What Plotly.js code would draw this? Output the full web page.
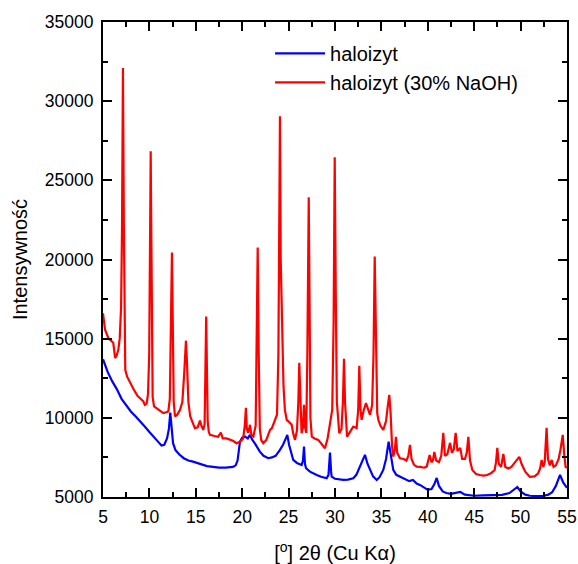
<!DOCTYPE html>
<html>
<head>
<meta charset="utf-8">
<script src="https://cdn.plot.ly/plotly-3.0.1.min.js"></script>
<style>html,body{margin:0;padding:0;background:#fff;}#chart{width:578px;height:564px;}</style>
</head>
<body>
<div id="chart"></div>
<script>
// haloizyt (30% NaOH) - red
var redX = [5.0,5.1,5.22,5.4,5.6,5.75,5.95,6.1,6.2,6.3,6.45,6.65,6.8,6.95,7.05,7.15,7.25,7.32,7.4,7.6,7.9,8.3,8.7,9.0,9.35,9.5,9.7,9.85,9.98,10.08,10.14,10.2,10.28,10.35,10.5,10.8,11.1,11.5,11.8,12.04,12.2,12.33,12.43,12.52,12.62,12.76,13.0,13.3,13.55,13.75,13.94,14.05,14.2,14.4,14.7,14.9,15.2,15.45,15.6,15.8,15.95,16.03,16.12,16.2,16.28,16.4,16.53,17.0,17.4,17.7,17.9,18.3,18.7,19.0,19.4,19.8,20.1,20.28,20.4,20.5,20.65,20.84,21.0,21.2,21.45,21.55,21.67,21.78,21.9,22.05,22.27,22.6,23.0,23.2,23.53,23.75,23.9,24.0,24.07,24.15,24.32,24.45,24.6,24.8,25.1,25.33,25.5,25.69,25.9,26.05,26.15,26.25,26.4,26.55,26.66,26.78,26.9,27.02,27.12,27.17,27.25,27.35,27.5,27.8,28.2,28.6,28.92,29.2,29.46,29.7,29.85,29.97,30.08,30.2,30.46,30.7,30.85,30.97,31.08,31.3,31.6,31.97,32.33,32.5,32.62,32.75,32.87,33.1,33.34,33.55,33.77,34.0,34.15,34.28,34.4,34.55,34.67,34.9,35.2,35.5,35.7,35.85,36.0,36.15,36.28,36.45,36.57,36.7,37.0,37.4,37.7,37.9,38.08,38.25,38.5,38.8,39.2,39.6,39.88,40.05,40.2,40.4,40.55,40.7,40.9,41.2,41.45,41.67,41.85,42.1,42.4,42.6,42.8,43.0,43.2,43.5,43.7,44.0,44.2,44.37,44.55,44.8,45.2,45.6,46.0,46.4,46.8,47.2,47.35,47.49,47.65,47.9,48.14,48.35,48.7,49.0,49.4,49.86,50.1,50.5,51.0,51.5,51.9,52.1,52.27,52.45,52.6,52.8,52.95,53.15,53.35,53.55,53.8,54.1,54.3,54.54,54.7,54.85,55.0];
var redY = [16600,16200,15570,15300,15000,14937,14800,14747,14300,13780,13900,14304,15000,17000,22000,32088,22000,15000,13038,12600,12215,11800,11400,11200,11032,10823,10900,11500,14000,22000,26835,22000,14000,11300,10717,10600,10500,10296,10350,10400,11200,16000,20443,16000,11000,10083,10200,10506,11000,12800,14873,13500,11000,10083,9600,9348,9400,9829,9500,9240,9600,12500,16392,13000,9800,9100,8924,8850,8800,9072,8700,8700,8608,8550,8398,8500,8700,9500,10633,9300,9051,9557,8900,8816,9500,14000,20759,14000,9300,8600,8398,8600,9240,9348,9873,10200,14000,22000,29050,20000,14494,12000,10500,9873,9700,9557,9000,8608,9200,11000,13480,11000,9030,9400,10823,9400,9051,14000,21000,23924,18000,10000,8816,8700,8608,8300,8080,8700,9766,10500,16000,26455,18000,11000,9030,9300,11000,13734,11000,8816,9100,9449,9348,10500,13290,10500,9873,10500,10928,10500,10189,10800,14000,20190,14000,10300,9873,9500,9240,9800,10800,11455,10200,8200,7550,8000,8797,7800,7450,7400,7300,7600,8291,7400,7050,6920,6900,6850,6920,7300,7658,7200,7300,7848,7300,7200,7600,9051,7600,7700,8418,7800,8000,9051,7900,8101,7400,7400,7800,8797,7300,6700,6450,6392,6350,6392,6500,6700,7200,8101,7100,6900,7721,6900,6800,6900,7200,7532,7100,6600,6266,6300,6500,6800,7342,6900,7200,9367,7400,7000,7342,6900,7000,7400,8000,8924,7700,6900,6835];

// haloizyt - blue
var blueX = [5.0,5.5,6.0,6.5,7.0,7.5,8.0,8.5,9.0,9.5,10.0,10.5,11.0,11.3,11.6,11.9,12.1,12.25,12.4,12.55,12.8,13.2,13.7,14.2,14.7,15.2,15.7,16.2,16.86,17.5,18.2,18.7,19.0,19.3,19.5,19.76,20.0,20.3,20.6,20.84,21.1,21.4,21.9,22.3,22.8,23.2,23.6,24.07,24.4,24.7,24.86,25.05,25.3,25.5,25.9,26.2,26.4,26.55,26.66,26.76,26.88,27.3,27.6,28.03,28.5,29.1,29.3,29.46,29.58,29.64,30.0,30.4,30.9,31.4,31.97,32.3,32.6,32.87,33.23,33.5,33.77,34.1,34.5,34.8,35.2,35.5,35.78,36.0,36.28,36.6,37.0,37.5,38.0,38.4,38.8,39.2,39.6,40.0,40.4,40.7,40.96,41.2,41.6,42.0,42.5,43.0,43.5,44.0,44.5,45.0,46.0,47.0,48.0,48.8,49.3,49.65,50.0,50.5,51.0,51.5,52.0,52.5,53.0,53.4,53.8,54.25,54.6,55.0];
var blueY = [13700,12900,12300,11800,11200,10800,10400,10100,9800,9450,9100,8800,8450,8250,8300,8700,9300,10336,9400,8400,7975,7700,7450,7300,7234,7150,7050,6950,6899,6850,6850,6900,6899,7000,7300,8500,8750,8816,8700,8924,8600,8350,7867,7600,7450,7500,7600,7975,8300,8700,8924,8300,7700,7342,7150,7050,7025,7300,8184,7100,6816,6600,6500,6392,6280,6183,6400,7806,6600,6287,6150,6100,6076,6100,6183,6400,6800,7131,7658,7100,6709,6300,6076,6250,6709,7400,8500,7600,6709,6400,6300,6150,6000,6076,5850,5750,5600,5450,5500,5800,6202,5700,5350,5253,5200,5250,5316,5150,5100,5080,5100,5100,5130,5250,5450,5633,5350,5150,5080,5050,5050,5080,5150,5300,5700,6392,5900,5570];

var seriesNames = ['haloizyt', 'haloizyt (30% NaOH)'];
var xTitle = '[<sup>o</sup>] 2θ (Cu Kα)';
var yTitle = 'Intensywność';

var FONT = 'Liberation Sans, Arial, Helvetica, sans-serif';

var traces = [
  {x: blueX, y: blueY, name: seriesNames[0], type: 'scatter', mode: 'lines', line: {color: '#0000ff', width: 2.2}},
  {x: redX, y: redY, name: seriesNames[1], type: 'scatter', mode: 'lines', line: {color: '#ff0000', width: 2.2}}
];

var axisCommon = {
  showgrid: false, zeroline: false,
  showline: true, linecolor: '#000', linewidth: 2,
  mirror: 'ticks', ticks: 'inside', ticklen: 9, tickwidth: 2, tickcolor: '#000',
  tickformat: 'd', separatethousands: false, exponentformat: 'none',
  tickfont: {family: FONT, size: 17.5, color: '#000'}
};

var layout = {
  width: 578, height: 564,
  margin: {l: 103, r: 11, t: 22, b: 67},
  paper_bgcolor: '#fff', plot_bgcolor: '#fff',
  showlegend: true,
  legend: {x: 0.36, y: 0.975, xanchor: 'left', yanchor: 'top', bgcolor: 'rgba(0,0,0,0)',
           font: {family: FONT, size: 20, color: '#000'}, itemwidth: 50, tracegroupgap: 0},
  xaxis: Object.assign({}, axisCommon, {
    range: [5, 55], dtick: 5, tick0: 5, ticklabelstandoff: 3,
    minor: {dtick: 2.5, ticks: 'inside', ticklen: 5, tickwidth: 2, tickcolor: '#000', showgrid: false},
    title: {text: xTitle, font: {family: FONT, size: 20, color: '#000'}, standoff: 20}
  }),
  yaxis: Object.assign({}, axisCommon, {
    range: [5000, 35000], dtick: 5000, tick0: 5000, ticklabelstandoff: 4,
    minor: {dtick: 2500, ticks: 'inside', ticklen: 5, tickwidth: 2, tickcolor: '#000', showgrid: false},
    title: {text: yTitle, font: {family: FONT, size: 20, color: '#000'}, standoff: 12}
  })
};

Plotly.newPlot('chart', traces, layout, {displayModeBar: false, staticPlot: true});
</script>
</body>
</html>
